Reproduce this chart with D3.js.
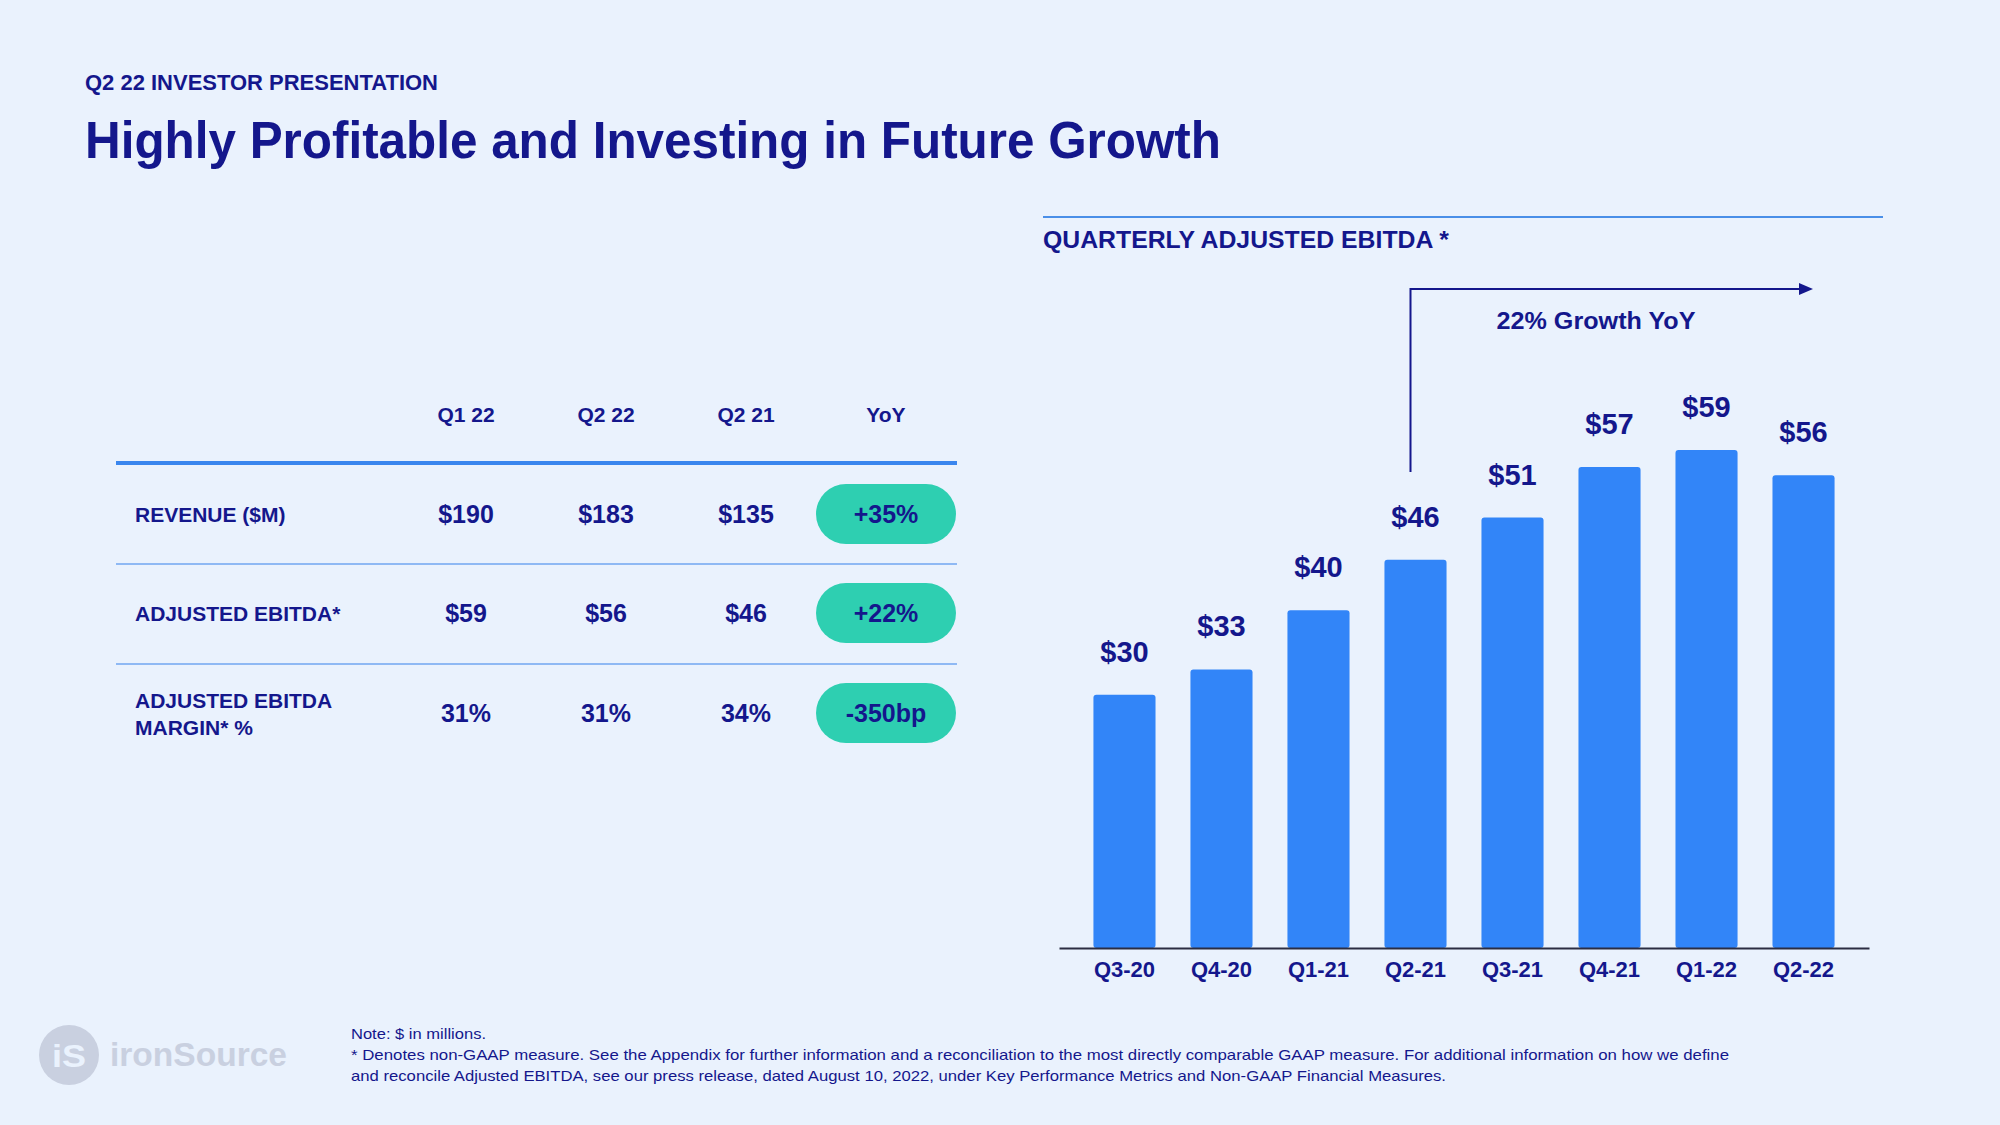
<!DOCTYPE html>
<html>
<head>
<meta charset="utf-8">
<script src="https://cdn.jsdelivr.net/npm/d3@7"></script>
<style>
  html, body { margin: 0; padding: 0; background: #eaf2fd; }
  svg { display: block; }
  text { font-family: "Liberation Sans", Arial, Helvetica, sans-serif; }
</style>
</head>
<body>
<script>
// ---------- data ----------
const quarters = ["Q3-20", "Q4-20", "Q1-21", "Q2-21", "Q3-21", "Q4-21", "Q1-22", "Q2-22"];
const ebitda = [30, 33, 40, 46, 51, 57, 59, 56];

const tableCols = ["Q1 22", "Q2 22", "Q2 21", "YoY"];
const rowLabels = [["REVENUE ($M)"], ["ADJUSTED EBITDA*"], ["ADJUSTED EBITDA", "MARGIN* %"]];
const revenueRow = ["$190", "$183", "$135"];
const ebitdaRow = ["$59", "$56", "$46"];
const marginRow = ["31%", "31%", "34%"];
const yoyRow = ["+35%", "+22%", "-350bp"];

const subtitle = "Q2 22 INVESTOR PRESENTATION";
const title = "Highly Profitable and Investing in Future Growth";
const chartTitle = "QUARTERLY ADJUSTED EBITDA *";
const growthNote = "22% Growth YoY";
const notes = [
  "Note: $ in millions.",
  "* Denotes non-GAAP measure. See the Appendix for further information and a reconciliation to the most directly comparable GAAP measure. For additional information on how we define",
  "and reconcile Adjusted EBITDA, see our press release, dated August 10, 2022, under Key Performance Metrics and Non-GAAP Financial Measures."
];

// ---------- style ----------
const NAVY = "#14178c";
const BAR = "#3285f8";
const TEAL = "#2ecfb1";
const W = 2000, H = 1125;

const svg = d3.select("body").append("svg").attr("width", W).attr("height", H);
svg.append("rect").attr("width", W).attr("height", H).attr("fill", "#eaf2fd");

// ---------- header ----------
svg.append("text").attr("x", 85).attr("y", 90)
  .attr("fill", NAVY).attr("font-size", 22).attr("font-weight", "bold")
  .attr("textLength", 353).attr("lengthAdjust", "spacingAndGlyphs")
  .text(subtitle);
svg.append("text").attr("x", 85).attr("y", 158)
  .attr("fill", NAVY).attr("font-size", 52).attr("font-weight", "bold")
  .attr("textLength", 1136).attr("lengthAdjust", "spacingAndGlyphs")
  .text(title);

// ---------- table ----------
const colX = d3.scalePoint().domain(tableCols).range([466, 886]);
const rowY = [514, 613, 713];
const tbl = svg.append("g");

tbl.selectAll("text.colhead").data(tableCols).join("text")
  .attr("class", "colhead")
  .attr("x", d => colX(d)).attr("y", 422)
  .attr("text-anchor", "middle").attr("fill", NAVY)
  .attr("font-size", 21).attr("font-weight", "bold")
  .text(d => d);

tbl.append("line").attr("x1", 116).attr("x2", 957).attr("y1", 463).attr("y2", 463)
  .attr("stroke", "#3a86ee").attr("stroke-width", 4);
[564, 664].forEach(y => {
  tbl.append("line").attr("x1", 116).attr("x2", 957).attr("y1", y).attr("y2", y)
    .attr("stroke", "#8fb9f4").attr("stroke-width", 2);
});

rowLabels.forEach((lines, i) => {
  const t = tbl.append("text").attr("x", 135).attr("fill", NAVY)
    .attr("font-size", 21).attr("font-weight", "bold");
  if (lines.length === 1) {
    t.attr("y", rowY[i] + 8).text(lines[0]);
  } else {
    t.selectAll("tspan").data(lines).join("tspan")
      .attr("x", 135).attr("y", (d, j) => 708 + j * 27).text(d => d);
  }
});

const rows = [revenueRow, ebitdaRow, marginRow];
rows.forEach((vals, i) => {
  tbl.selectAll(null).data(vals).join("text")
    .attr("x", (d, j) => colX(tableCols[j])).attr("y", rowY[i] + 9)
    .attr("text-anchor", "middle").attr("fill", NAVY)
    .attr("font-size", 25).attr("font-weight", "bold")
    .text(d => d);
});

yoyRow.forEach((v, i) => {
  const cx = colX("YoY");
  tbl.append("rect").attr("x", cx - 70).attr("y", rowY[i] - 30)
    .attr("width", 140).attr("height", 60).attr("rx", 30).attr("ry", 30)
    .attr("fill", TEAL);
  tbl.append("text").attr("x", cx).attr("y", rowY[i] + 9)
    .attr("text-anchor", "middle").attr("fill", NAVY)
    .attr("font-size", 25).attr("font-weight", "bold")
    .text(v);
});

// ---------- bar chart ----------
svg.append("line").attr("x1", 1043).attr("x2", 1883).attr("y1", 217).attr("y2", 217)
  .attr("stroke", "#4a8fe8").attr("stroke-width", 2);
svg.append("text").attr("x", 1043).attr("y", 248)
  .attr("fill", NAVY).attr("font-size", 23).attr("font-weight", "bold")
  .attr("textLength", 406).attr("lengthAdjust", "spacingAndGlyphs")
  .text(chartTitle);

const x = d3.scaleBand().domain(quarters).range([1059, 1869])
  .paddingInner(0.36).paddingOuter(0.355);
const y = d3.scaleLinear().domain([0, 59]).range([948, 450]);

const bars = svg.append("g");
bars.selectAll("rect").data(ebitda).join("rect")
  .attr("x", (d, i) => x(quarters[i]))
  .attr("y", d => y(d))
  .attr("width", x.bandwidth())
  .attr("height", d => y(0) - y(d))
  .attr("rx", 3).attr("ry", 3)
  .attr("fill", BAR);

bars.selectAll("text").data(ebitda).join("text")
  .attr("x", (d, i) => x(quarters[i]) + x.bandwidth() / 2)
  .attr("y", d => y(d) - 33)
  .attr("text-anchor", "middle").attr("fill", NAVY)
  .attr("font-size", 29).attr("font-weight", "bold")
  .text(d => "$" + d);

const axis = svg.append("g").attr("transform", "translate(0,948)")
  .call(d3.axisBottom(x).tickSize(0).tickPadding(13));
axis.select(".domain").attr("stroke", "#2b2d42").attr("stroke-width", 2);
axis.selectAll("text").attr("fill", NAVY).attr("font-size", 22).attr("font-weight", "bold")
  .attr("font-family", "'Liberation Sans', Arial, sans-serif");

// growth arrow
const ax = x(quarters[3]) + x.bandwidth() / 2 - 5;
svg.append("path")
  .attr("d", `M${ax},472 V289 H1800`)
  .attr("fill", "none").attr("stroke", NAVY).attr("stroke-width", 2);
svg.append("path")
  .attr("d", "M1799,283 L1813,289 L1799,295 Z")
  .attr("fill", NAVY);
svg.append("text").attr("x", 1596).attr("y", 329)
  .attr("text-anchor", "middle").attr("fill", NAVY)
  .attr("font-size", 24).attr("font-weight", "bold")
  .attr("textLength", 199).attr("lengthAdjust", "spacingAndGlyphs")
  .text(growthNote);

// ---------- footer ----------
const logo = svg.append("g");
logo.append("circle").attr("cx", 69).attr("cy", 1055).attr("r", 30).attr("fill", "#c9d0e0");
logo.append("text").attr("x", 69).attr("y", 1067).attr("text-anchor", "middle")
  .attr("fill", "#eaf2fd").attr("font-size", 32).attr("font-weight", "bold")
  .attr("textLength", 34).attr("lengthAdjust", "spacingAndGlyphs")
  .text("iS");
logo.append("text").attr("x", 110).attr("y", 1066)
  .attr("fill", "#c9d0e0").attr("font-size", 33).attr("font-weight", "bold")
  .attr("textLength", 177).attr("lengthAdjust", "spacingAndGlyphs")
  .text("ironSource");

const noteWidths = [135, 1378, 1095];
svg.selectAll("text.note").data(notes).join("text")
  .attr("class", "note")
  .attr("x", 351).attr("y", (d, i) => 1039 + i * 21)
  .attr("fill", NAVY).attr("font-size", 15)
  .attr("textLength", (d, i) => noteWidths[i]).attr("lengthAdjust", "spacingAndGlyphs")
  .text(d => d);
</script>
</body>
</html>
